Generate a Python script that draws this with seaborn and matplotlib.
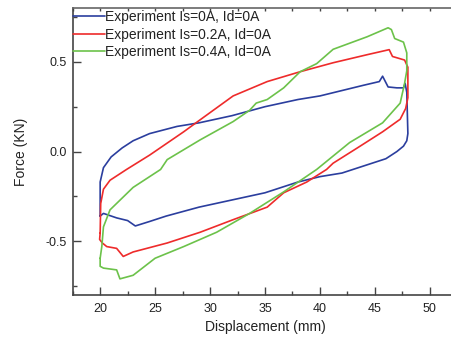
import numpy as np
import pandas as pd
import matplotlib
matplotlib.use("Agg")
import matplotlib.pyplot as plt
import seaborn as sns
from matplotlib.lines import Line2D

labels = ["Experiment Is=0A, Id=0A", "Experiment Is=0.2A, Id=0A", "Experiment Is=0.4A, Id=0A"]
colors = ["#2B3E9E", "#EE2B2B", "#6CC24A"]

blue_x = [20.0, 20.0, 20.3, 21.0, 22.0, 23.0, 24.5, 27.0, 29.0, 32.0, 35.0, 38.0, 40.0, 42.0, 44.0, 45.4, 45.7,
          46.2, 47.0, 47.6, 47.75, 47.9, 48.0, 47.9, 47.6, 47.0, 46.0, 44.0, 42.0, 40.0, 38.0, 35.0, 32.0, 29.0,
          26.0, 24.5, 23.2, 22.5, 21.5, 20.3, 20.0]
blue_y = [-0.36, -0.17, -0.09, -0.03, 0.02, 0.06, 0.10, 0.14, 0.16, 0.20, 0.25, 0.29, 0.31, 0.34, 0.37, 0.39, 0.42,
          0.36, 0.355, 0.355, 0.38, 0.33, 0.10, 0.06, 0.03, 0.0, -0.04, -0.08, -0.12, -0.14, -0.17, -0.23, -0.27,
          -0.31, -0.36, -0.39, -0.415, -0.385, -0.37, -0.345, -0.36]

red_x = [20.0, 20.05, 20.3, 20.9, 22.4, 24.5, 27.6, 29.1, 32.1, 35.2, 38.2, 41.2, 44.3, 46.3, 46.6, 47.7, 48.0,
         48.0, 47.8, 47.3, 45.7, 43.4, 41.2, 40.6, 38.8, 36.7, 35.2, 32.1, 29.1, 26.1, 23.0, 22.1, 21.5, 20.6,
         20.2, 19.95, 20.0]
red_y = [-0.455, -0.29, -0.21, -0.16, -0.10, -0.02, 0.11, 0.177, 0.31, 0.39, 0.445, 0.495, 0.54, 0.568, 0.53, 0.51,
         0.47, 0.30, 0.24, 0.18, 0.11, 0.02, -0.065, -0.10, -0.17, -0.23, -0.31, -0.38, -0.45, -0.51, -0.56, -0.585,
         -0.54, -0.53, -0.51, -0.49, -0.455]

green_x = [20.0, 20.15, 20.3, 20.9, 23.0, 25.5, 26.1, 29.1, 32.1, 33.6, 34.2, 35.2, 36.7, 38.2, 39.7, 41.2, 44.3,
           46.2, 46.5, 46.8, 47.6, 47.9, 47.9, 47.7, 47.3, 45.7, 42.7, 39.7, 36.7, 33.6, 30.6, 27.6, 25.0, 23.0,
           21.8, 21.5, 20.3, 20.0, 20.0]
green_y = [-0.595, -0.53, -0.42, -0.325, -0.20, -0.10, -0.045, 0.065, 0.167, 0.23, 0.27, 0.29, 0.355, 0.445, 0.49,
           0.57, 0.64, 0.69, 0.68, 0.63, 0.61, 0.55, 0.45, 0.38, 0.27, 0.16, 0.05, -0.10, -0.225, -0.345, -0.45,
           -0.53, -0.595, -0.69, -0.71, -0.66, -0.65, -0.64, -0.595]

frames = []
for lab, xs, ys in zip(labels, [blue_x, red_x, green_x], [blue_y, red_y, green_y]):
    frames.append(pd.DataFrame({"Displacement": xs, "Force": ys, "series": lab}))
df = pd.concat(frames, ignore_index=True)

sns.set_style("ticks")
plt.rcParams["font.family"] = ["Liberation Sans", "DejaVu Sans"]

fig = plt.figure(figsize=(4.52, 3.38), dpi=100)
ax = fig.add_axes([0.1608, 0.1272, 0.851, 0.849])

sns.lineplot(data=df, x="Displacement", y="Force", hue="series", units="series", sort=False, estimator=None,
             palette=dict(zip(labels, colors)), linewidth=1.2, ax=ax, legend=False)

ax.set_xlim(17.5, 52.5)
ax.set_ylim(-0.8, 0.8)
ax.set_xticks([20, 25, 30, 35, 40, 45, 50])
ax.set_xticks(np.arange(17.5, 52.6, 2.5), minor=True)
ax.set_yticks([-0.5, 0.0, 0.5])
ax.set_yticklabels(["-0.5", "0.0", "0.5"])
ax.set_yticks([-0.75, -0.25, 0.25, 0.75], minor=True)

spine_col = "#444444"
for s in ax.spines.values():
    s.set_color(spine_col)
    s.set_linewidth(1.2)
ax.spines["top"].set_color("#666666")

ax.tick_params(axis="both", which="major", direction="in", length=6, width=1.0, color=spine_col,
               labelsize=9, labelcolor="#222222")
ax.tick_params(axis="both", which="minor", direction="in", length=3, width=1.0, color=spine_col)
ax.tick_params(axis="x", which="both", top=True)
ax.tick_params(axis="x", which="major", pad=6)
ax.tick_params(axis="y", which="major", pad=4)
for tk in ax.xaxis.get_major_ticks() + ax.xaxis.get_minor_ticks():
    tk.tick2line.set_markersize(1.8)

ax.set_xlabel("Displacement (mm)", fontsize=10, color="#222222", labelpad=3)
ax.set_ylabel("Force (KN)", fontsize=10, color="#222222", labelpad=13)

handles = [Line2D([0], [0], color=c, lw=1.2) for c in colors]
leg = ax.legend(handles, labels, loc="upper left", frameon=False, fontsize=10, borderaxespad=0.0,
                borderpad=0.0, handletextpad=0.0, handlelength=2.3, labelspacing=0.25,
                bbox_to_anchor=(0.0, 0.993))
for t in leg.get_texts():
    t.set_color("#222222")

fig.savefig("out.png", dpi=100)
